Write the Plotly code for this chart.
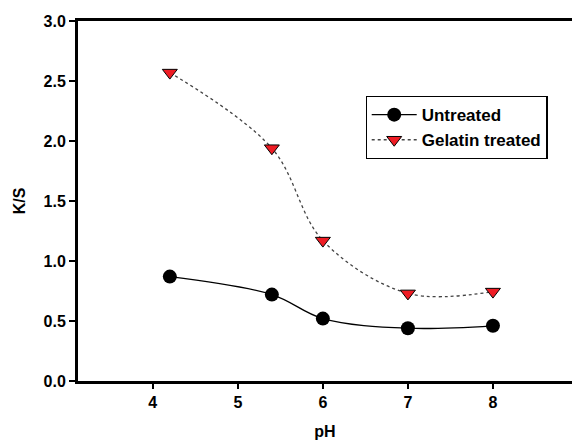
import plotly.graph_objects as go

# pH values and K/S colour strength readings
ph_untreated = [4.2, 5.4, 6, 7, 8]
ks_untreated = [0.87, 0.72, 0.52, 0.44, 0.46]

ph_gelatin = [4.2, 5.4, 6, 7, 8]
ks_gelatin = [2.57, 1.94, 1.17, 0.73, 0.745]

x_ticks = [4, 5, 6, 7, 8]
y_ticks = [0.0, 0.5, 1.0, 1.5, 2.0, 2.5, 3.0]

font_family = "Liberation Sans, Arial, sans-serif"

fig = go.Figure()

fig.add_trace(go.Scatter(
    x=ph_untreated, y=ks_untreated, name="Untreated",
    mode="lines+markers",
    line=dict(color="black", width=1.3, shape="spline", smoothing=1.0),
    marker=dict(symbol="circle", size=14, color="black"),
))

fig.add_trace(go.Scatter(
    x=ph_gelatin, y=ks_gelatin, name="Gelatin treated",
    mode="lines+markers",
    line=dict(color="#444444", width=1.3, dash="dot", shape="spline", smoothing=1.0),
    marker=dict(symbol="triangle-down", size=13, color="#ee1c24",
                line=dict(color="black", width=1)),
))

axis_font = dict(family=font_family, size=16, color="black")

fig.update_layout(
    width=572, height=442,
    margin=dict(l=78, r=0, t=21, b=61),
    paper_bgcolor="white", plot_bgcolor="white",
    font=dict(family=font_family, size=16, color="black"),
    showlegend=True,
    legend=dict(
        x=0.582, y=0.792, xanchor="left", yanchor="top",
        bordercolor="black", borderwidth=1.2, bgcolor="white",
        font=dict(family=font_family, size=17, color="black", weight="bold"),
        tracegroupgap=0, itemwidth=45,
    ),
    xaxis=dict(
        range=[3.12, 8.93], tickvals=x_ticks,
        ticktext=[f"<b>{v}</b>" for v in x_ticks],
        showline=True, linecolor="black", linewidth=3, mirror=True,
        ticks="outside", ticklen=5, tickwidth=2, tickcolor="black",
        showgrid=False, zeroline=False, tickfont=axis_font,
        title=dict(text="<b>pH</b>", font=axis_font, standoff=16),
    ),
    yaxis=dict(
        range=[0, 3.0], tickvals=y_ticks,
        ticktext=[f"<b>{v:.1f}</b>" for v in y_ticks],
        showline=True, linecolor="black", linewidth=3, mirror=False,
        ticks="outside", ticklen=6, tickwidth=2, tickcolor="black",
        showgrid=False, zeroline=False, tickfont=axis_font,
        title=dict(text="<b>K/S</b>", font=axis_font, standoff=14),
    ),
)

fig.write_html("out.html")
